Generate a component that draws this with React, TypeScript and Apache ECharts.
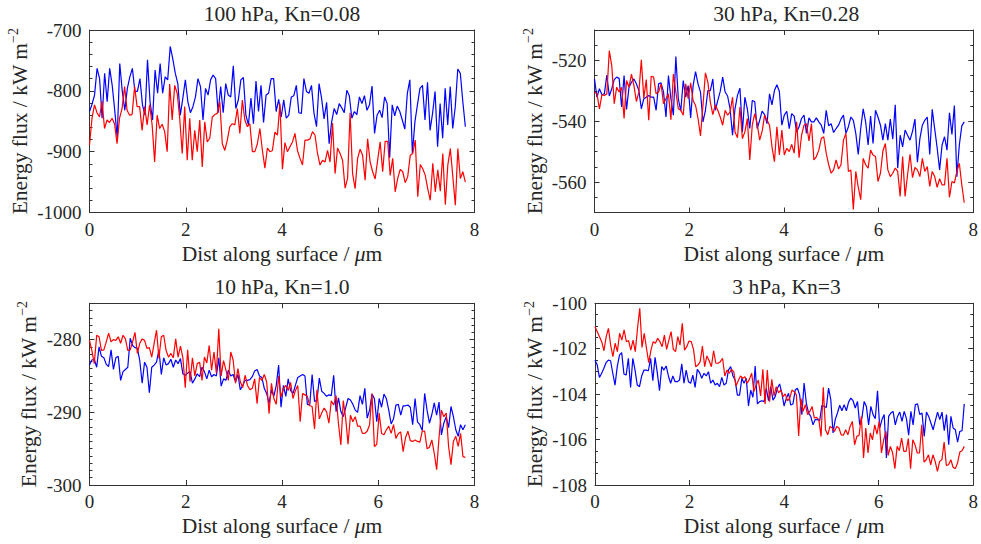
import React, { useEffect, useRef } from 'react';
import * as echarts from 'echarts';

// ---------- data ----------
const X_END = 7.81; // last sample position (µm)
const X_MIN = 0;
const X_MAX = 8;
const X_STEP = 2;

const TITLES = ['100 hPa, Kn=0.08', '30 hPa, Kn=0.28', '10 hPa, Kn=1.0', '3 hPa, Kn=3'];
const Y_MIN = [-1000, -570, -300, -108];
const Y_MAX = [-700, -510, -275, -100];
const Y_STEP = [100, 20, 10, 2];
const Y_MINOR = [20, 5, 1, 0.5];

const P1_BLUE = [
  -834, -822, -807, -763, -780, -845, -771, -818, -763, -791, -832, -877, -755, -801, -832, -796, -777, -763, -801, -801,
  -780, -823, -840, -749, -818, -848, -766, -804, -755, -804, -777, -782, -727, -747, -771, -788, -840, -812, -782, -818,
  -836, -826, -810, -780, -793, -848, -796, -807, -782, -774, -780, -836, -793, -836, -788, -807, -810, -759, -829, -815,
  -782, -778, -840, -856, -812, -854, -784, -834, -791, -852, -807, -804, -780, -780, -834, -814, -843, -815,
  -845, -840, -810, -808, -791, -836, -837, -780, -801, -804, -791, -837, -859, -788, -812, -846, -819, -887, -851, -829,
  -839, -821, -828, -836, -799, -808, -845, -834, -839, -810, -821, -808, -832, -823, -792, -870, -840, -832, -844, -810,
  -821, -910, -823, -841, -825, -834, -848, -863, -804, -782, -903, -851, -823, -796, -791, -848, -786, -865, -837, -801,
  -892, -821, -878, -796, -856, -793, -862, -826, -764, -771, -818, -859,
];
const P1_RED = [
  -889, -845, -823, -836, -843, -817, -862, -848, -852, -845, -854, -887, -845, -829, -793, -832, -840, -839, -793, -826,
  -826, -865, -826, -856, -823, -856, -917, -840, -862, -855, -867, -900, -789, -848, -791, -804, -845, -903, -826, -914,
  -845, -914, -865, -900, -848, -925, -851, -884, -878, -843, -839, -837, -818, -887, -898, -881, -859, -854, -856, -829,
  -870, -815, -848, -859, -854, -900, -900, -887, -862, -898, -927, -894, -900, -898, -868, -873, -821, -929, -885,
  -900, -892, -884, -870, -898, -911, -922, -881, -881, -879, -867, -873, -903, -922, -914, -917, -898, -917, -853, -936,
  -894, -903, -914, -960, -944, -836, -936, -961, -911, -896, -906, -947, -879, -917, -933, -945, -914, -884, -933, -883,
  -883, -939, -911, -966, -944, -929, -933, -951, -941, -906, -903, -881, -974, -921, -928, -939, -961, -980, -919, -966,
  -930, -965, -903, -987, -922, -895, -941, -988, -895, -944, -933, -950,
];

const P2_BLUE = [
  -526.1, -532.1, -529.3, -531.3, -531, -524.8, -531.7, -529.3, -526.3, -525.5, -525.9, -535.3, -525, -536.1, -528.8,
  -527.2, -526.1, -527.7, -529.9, -535.9, -532.6, -532.1, -531.5, -532.1, -532.1, -536.4, -527.7, -527.4, -530.4, -538.6,
  -525, -532.6, -538, -518.7, -532.6, -536.7, -526.6, -532.1, -528.3, -538.9, -528.3, -523.7, -527.7, -530.4, -540.2,
  -536.4, -529.9, -529.9, -526.1, -536.4, -533.2, -530.2, -525.5, -530.4, -531.7, -535.9, -544.6, -535.9, -531.5, -529.1,
  -543.5, -532.1, -535.9, -542.4, -533.2, -533.5, -542.4, -539.7, -536.7, -537.8, -540.8, -531, -534.6, -529.9, -528,
  -530.2,
  -541.3, -538, -536.7, -542.4, -537.5, -538.3, -543.5, -541.8, -539.1, -538, -544, -538.9, -540.2, -540.2, -538.9,
  -540.2, -541.3, -544, -536.4, -541.5, -540.8, -543.7, -542.4, -541.3, -539.3, -538, -544, -541.8, -538.6, -539.7,
  -544, -550.9, -542.4, -535.9, -540.2, -547.8, -538.3, -547.3, -536.4, -538.6, -541.3, -546.2, -540.8, -546.2, -539.3,
  -545.9, -534.6, -555.4, -544.6, -548.4, -542.9, -544.6, -546.2, -543.3, -539.3, -553.5, -545.7, -541.3, -539.7, -538.6,
  -550.9, -536.1, -542.4, -548.7, -556, -547.8, -545.1, -549.5, -537.2, -544.3, -534.8, -558.2, -547.8, -541.5, -540.2,
];
const P2_RED = [
  -530.4, -531, -535.9, -531.3, -531.5, -531, -516.8, -521.7, -534.2, -528.8, -530.4, -528.8, -539.1, -526.6, -528.8,
  -524.5, -528.3, -533.5, -530.4, -519.8, -532.4, -526.3, -539.7, -525.2, -525.5, -531, -530.4, -527.7, -534.2, -532.6,
  -531, -539.5, -524.5, -530.4, -535.9, -536.4, -538, -527.7, -532.6, -527.4, -533.2, -534.8, -539.1, -544.8, -534.8,
  -524.1, -527.2, -533.7, -537.8, -534.6, -536.4, -538.6, -541.3, -536.4, -538, -537, -532.1, -543.5, -545.4, -535.3,
  -545.7, -543.5, -539.1, -552.7, -541.3, -537.5, -540.8, -546.2, -543.3, -538, -539.7, -541.3, -548.4, -553.3, -541.8,
  -551.1, -542.9,
  -551.1, -548.9, -550, -547.6, -550.5, -540.2, -552, -544.6, -541.3, -540.8, -546.5, -540.8, -552.7, -551.6, -549.5,
  -545.7, -545.1, -550.5, -554.3, -557.1, -556, -552.7, -555.7, -554.3, -546.2, -544, -556.5, -556, -569, -556.5,
  -561.7, -565.8, -552.2, -554.3, -555.4, -549.5, -551.1, -551.6, -559.8, -557.1, -549.8, -547.3, -556, -558.2, -557.1,
  -555.4, -556.5, -564.7, -551.6, -564.7, -557.6, -550.9, -558.5, -555.2, -556, -558.2, -552.2, -556.5, -554.9, -561.4,
  -556.5, -558.2, -561.7, -558.9, -560.9, -560.9, -552.2, -565, -559.8, -560.3, -556.5, -553.8, -560.9, -566.8,
];

const P3_BLUE = [
  -283.5, -282.8, -282.7, -283.8, -281.0, -282.3, -282.5, -283.4, -283.7, -281.4, -284.1, -282.5, -282.3, -285.6, -284.4,
  -284.1, -283.8, -279.8, -280.8, -281.1, -281.2, -282.9, -286.0, -283.1, -283.8, -287.3, -283.8, -283.5, -283.1, -281.4,
  -284.8, -282.5, -283.5, -283.3, -282.7, -283.8, -282.8, -283.3, -282.6, -284.7, -284.9, -284.6, -284.4, -286.0, -285.4,
  -284.7, -285.1, -283.8, -284.4, -285.4, -284.2, -285.1, -284.8, -285.0, -282.5, -286.4, -285.4, -285.6, -284.2, -285.0,
  -284.8, -285.8, -284.8, -286.9, -286.3, -285.6, -285.6, -285.5, -285.1, -284.3, -284.1, -285.0, -285.2, -286.7, -287.4,
  -288.8, -286.9, -287.8, -286.3, -283.5, -289.3, -286.3, -287.8, -285.4, -287.0, -287.4, -286.3, -285.2, -285.0, -284.8,
  -285.0,
  -288.9, -289.0, -284.8, -288.5, -288.4, -285.3, -287.1, -287.4, -287.8, -287.6, -287.7, -284.9, -289.9, -288.0, -289.9,
  -290.6, -289.4, -288.1, -288.3, -288.9, -289.7, -290.0, -287.7, -288.9, -286.7, -290.8, -289.7, -287.5, -288.1, -291.3,
  -288.1, -289.3, -287.5, -288.1, -289.7, -291.6, -290.9, -289.0, -288.9, -290.4, -289.1, -289.1, -289.0, -289.3, -291.7,
  -288.1, -291.3, -291.7, -292.5, -287.4, -289.7, -291.5, -290.3, -288.7, -290.4, -288.6, -293.1, -291.5, -290.6, -292.1,
  -289.2, -290.6, -292.4, -293.3, -291.7, -292.4, -291.7,
];
const P3_RED = [
  -280.1, -281.5, -283.3, -279.4, -279.6, -281.5, -281.4, -280.3, -279.1, -280.3, -280.0, -280.1, -279.6, -280.5, -279.4,
  -279.9, -281.5, -281.4, -280.3, -279.0, -281.9, -280.5, -279.9, -280.1, -281.2, -281.1, -282.4, -280.5, -278.7, -282.6,
  -279.6, -279.4, -281.5, -282.4, -281.9, -282.5, -279.9, -282.4, -280.9, -282.5, -286.6, -281.4, -285.8, -282.5, -285.0,
  -283.3, -283.1, -285.6, -282.4, -283.2, -280.8, -284.2, -281.7, -284.6, -278.5, -285.0, -282.9, -284.2, -285.6, -281.7,
  -282.8, -286.0, -284.0, -285.8, -286.6, -284.9, -286.3, -286.9, -286.7, -285.4, -288.8, -285.2, -285.6, -284.8, -285.8,
  -290.2, -286.0, -288.1, -288.9, -285.0, -287.9, -286.7, -286.3, -287.0, -285.9, -288.1, -287.0, -286.3, -291.3, -287.4,
  -287.6,
  -287.8, -289.1, -289.2, -292.3, -286.9, -290.9, -290.1, -289.4, -289.9, -291.5, -288.4, -289.0, -287.7, -291.6, -294.5,
  -288.4, -290.8, -294.4, -290.4, -291.3, -290.6, -291.9, -291.9, -292.9, -292.9, -292.6, -291.7, -287.4, -294.7, -294.4,
  -290.1, -292.9, -293.1, -292.4, -291.9, -292.9, -291.7, -293.6, -292.9, -292.7, -295.4, -293.5, -292.6, -293.9, -294.0,
  -293.8, -294.0, -294.1, -292.6, -292.6, -295.0, -294.8, -293.8, -295.6, -297.9, -293.5, -289.7, -290.6, -290.1, -294.7,
  -297.2, -294.0, -293.3, -294.7, -292.9, -296.1, -296.2,
];

const P4_BLUE = [
  -102.5, -102.72, -103.26, -103.08, -102.86, -102.61, -102.5, -102.53, -103.08, -103.6, -102.79, -102.28, -102.17,
  -103.11, -103.16, -102.42, -103.7, -102.42, -102.94, -103.6, -103.67, -103.2, -102.94, -102.94, -102.97, -102.42,
  -103.41, -102.38, -103.05, -103.85, -102.79, -102.94, -102.76, -103.2, -103.52, -103.2, -103.45, -103.45, -103.38,
  -102.67, -103.52, -102.94, -103.45, -103.52, -103.16, -103.7, -102.91, -103.05, -103.3, -103.08, -103.2, -103.01,
  -103.52, -103.38, -103.6, -103.52, -103.67, -103.26, -103.6, -103.52, -102.94, -102.79, -103.2, -103.38, -104.04,
  -104.04, -103.3, -103.52, -103.3, -104.52, -103.82, -104.14, -102.76, -104.43, -104.33, -104.29, -104.33, -103.74,
  -104.29, -103.67, -104.26, -104.11, -103.74, -103.55, -103.96, -104.52, -104.19, -103.96, -104.48, -104.43, -103.82,
  -103.74, -104.04,
  -104.9, -103.51, -104.39, -104.83, -104.98, -105.35, -105.12, -105.12, -105.17, -104.49, -104.54, -104.58, -103.73,
  -104.24, -105.71, -105.12, -104.83, -104.49, -104.73, -104.46, -104.73, -104.35, -104.17, -104.29, -104.61, -104.32,
  -105.35, -105.05, -104.32, -104.54, -105.35, -104.54, -104.9, -105.08, -103.85, -105.49, -105.12, -104.9, -106.81,
  -104.98, -104.83, -104.76, -105.35, -104.98, -104.79, -105.2, -104.76, -105.08, -105.81, -104.76, -105.35, -104.46,
  -104.43, -104.9, -104.83, -105.86, -104.79, -104.98, -105.27, -105.57, -105.17, -104.79, -105.12, -104.79, -105.61,
  -104.9, -106.23, -104.98, -105.49, -105.57, -106.11, -105.64, -105.61, -104.43,
];
const P4_RED = [
  -101.03, -101.25, -101.47, -101.69, -102.09, -101.47, -101.1, -101.84, -102.35, -101.76, -102.13, -101.32, -101.62,
  -101.17, -101.69, -101.64, -102.06, -101.62, -102.13, -101.1, -100.22, -101.94, -101.32, -101.98, -102.61, -102.06,
  -101.69, -101.76, -101.54, -101.69, -101.91, -101.4, -102.03, -101.62, -101.25, -102.03, -102.13, -101.47, -101.84,
  -100.88, -102.06, -101.91, -101.66, -101.69, -102.03, -102.79, -102.72, -102.57, -101.88, -102.79, -102.32, -102.53,
  -102.79, -102.09, -102.64, -102.64, -102.57, -102.42, -103.2, -102.94, -103.08, -102.91, -103.01, -103.64, -103.41,
  -103.2, -103.3, -103.23, -103.52, -103.35, -103.08, -103.89, -103.6, -103.38, -104.08, -102.91, -104.43, -102.94,
  -104.33, -103.35, -104.08, -103.67, -103.94, -103.82, -104.11, -103.99, -104.29, -104.19, -103.82, -103.89, -104.04,
  -105.84, -104.19,
  -104.76, -104.46, -104.9, -104.76, -104.54, -105.05, -105.02, -105.12, -105.86, -103.7, -105.57, -105.79, -105.42,
  -105.49, -105.64, -105.42, -105.49, -105.79, -105.81, -105.57, -105.79, -105.42, -105.2, -106.23, -105.86, -105.81,
  -104.98, -106.81, -105.49, -106.59, -105.71, -106.01, -105.35, -105.76, -105.2, -106.59, -106.01, -105.64, -106.7,
  -106.3, -106.59, -107.28, -106.3, -106.49, -105.93, -106.52, -106.52, -105.96, -107.28, -106.01, -106.23, -106.59,
  -106.59, -105.35, -106.99, -106.89, -106.67, -107.11, -106.67, -106.96, -107.4, -106.96, -106.89, -106.11, -107.14,
  -107.11, -106.89, -107.22, -107.28, -107.03, -106.55, -106.49, -106.3,
];

const BLUE_SERIES = [P1_BLUE, P2_BLUE, P3_BLUE, P4_BLUE];
const RED_SERIES = [P1_RED, P2_RED, P3_RED, P4_RED];

// ---------- layout / style ----------
const FONT = '"Liberation Serif", "Times New Roman", serif';
const TXT = '#262626';
const AX = '#333333';
const GRIDS = [
  { left: 89.5, top: 30, width: 385, height: 182.5 },
  { left: 594.5, top: 30, width: 383.5, height: 182.5 },
  { left: 89.5, top: 303.3, width: 385, height: 181.7 },
  { left: 595, top: 303.3, width: 383, height: 181.7 },
];
const TITLE_Y = [13.5, 13.5, 286.5, 286.5];
const Y_NAME_GAP = [57, 45, 48, 45];
const NAME_SIZE = 21.5;
const TITLE_SIZE = 21.5;

function toPairs(ys: number[]) {
  const n = ys.length;
  return ys.map((y, i) => [(i * X_END) / (n - 1), y]);
}

function buildOption() {
  const xAxis: any[] = [];
  const yAxis: any[] = [];
  const series: any[] = [];
  const graphic: any[] = [];

  GRIDS.forEach((g, gi) => {
    const base = {
      gridIndex: gi,
      type: 'value',
      splitLine: { show: false },
      axisLine: { show: true, onZero: false, lineStyle: { color: AX, width: 1 } },
      axisTick: { show: true, inside: true, length: 5, lineStyle: { color: AX, width: 1 } },
    };
    xAxis.push({
      ...base,
      position: 'bottom',
      min: X_MIN,
      max: X_MAX,
      interval: X_STEP,
      axisLabel: { margin: 7, fontFamily: FONT, fontSize: 19, color: TXT },
      name: 'Dist along surface / {i|μ}m',
      nameLocation: 'middle',
      nameGap: 30,
      nameTextStyle: {
        fontFamily: FONT,
        fontSize: NAME_SIZE,
        color: TXT,
        rich: { i: { fontFamily: FONT, fontSize: NAME_SIZE, fontStyle: 'italic', color: TXT } },
      },
    });
    xAxis.push({
      ...base,
      position: 'top',
      min: X_MIN,
      max: X_MAX,
      interval: X_STEP,
      axisLabel: { show: false },
    });

    const divisible = Y_MIN[gi] % Y_STEP[gi] === 0;
    const major = divisible
      ? { interval: Y_STEP[gi] }
      : { splitNumber: Math.round((Y_MAX[gi] - Y_MIN[gi]) / Y_STEP[gi]) };
    const step = Y_STEP[gi];
    const yBase = { ...base, min: Y_MIN[gi], max: Y_MAX[gi], ...major };
    yAxis.push({
      ...yBase,
      position: 'left',
      axisLabel: {
        margin: 8,
        fontFamily: FONT,
        fontSize: 19,
        color: TXT,
        formatter: (v: number) => (Math.abs(v % step) < 1e-9 ? String(v) : ''),
      },
      name: 'Energy flux / kW m{sup|−2}',
      nameLocation: 'middle',
      nameGap: Y_NAME_GAP[gi],
      nameTextStyle: {
        fontFamily: FONT,
        fontSize: NAME_SIZE,
        color: TXT,
        lineHeight: 26,
        rich: { sup: { fontFamily: FONT, fontSize: 14, color: TXT, verticalAlign: 'top', lineHeight: 16 } },
      },
    });
    yAxis.push({ ...yBase, position: 'right', axisLabel: { show: false } });
    const minorBase = {
      gridIndex: gi,
      type: 'value',
      min: Y_MIN[gi],
      max: Y_MAX[gi],
      interval: Y_MINOR[gi],
      splitLine: { show: false },
      axisLine: { show: false, onZero: false },
      axisLabel: { show: false },
      axisTick: { show: true, inside: true, length: 3, lineStyle: { color: AX, width: 1 } },
    };
    yAxis.push({ ...minorBase, position: 'left' });
    yAxis.push({ ...minorBase, position: 'right' });

    series.push({
      type: 'line',
      xAxisIndex: gi * 2,
      yAxisIndex: gi * 4,
      data: toPairs(BLUE_SERIES[gi]),
      showSymbol: false,
      symbol: 'none',
      lineStyle: { color: '#0000ff', width: 1.2 },
      itemStyle: { color: '#0000ff' },
      silent: true,
    });
    series.push({
      type: 'line',
      xAxisIndex: gi * 2,
      yAxisIndex: gi * 4,
      data: toPairs(RED_SERIES[gi]),
      showSymbol: false,
      symbol: 'none',
      lineStyle: { color: '#ff0000', width: 1.2 },
      itemStyle: { color: '#ff0000' },
      silent: true,
    });

    graphic.push({
      type: 'text',
      x: g.left + g.width / 2,
      y: TITLE_Y[gi],
      style: {
        text: TITLES[gi],
        fontFamily: FONT,
        fontSize: TITLE_SIZE,
        fill: TXT,
        textAlign: 'center',
        textVerticalAlign: 'middle',
      },
    });
  });

  return {
    animation: false,
    backgroundColor: '#ffffff',
    grid: GRIDS.map((g) => ({ ...g, containLabel: false })),
    xAxis,
    yAxis,
    series,
    graphic,
  };
}

export default function App() {
  const ref = useRef<HTMLDivElement>(null);
  useEffect(() => {
    if (!ref.current) return;
    const chart = echarts.init(ref.current, undefined, { renderer: 'svg' });
    chart.setOption(buildOption() as any);
    return () => chart.dispose();
  }, []);
  return (
    <div
      ref={ref}
      style={{ position: 'absolute', left: 0, top: 0, width: 981, height: 544, background: '#fff' }}
    />
  );
}
